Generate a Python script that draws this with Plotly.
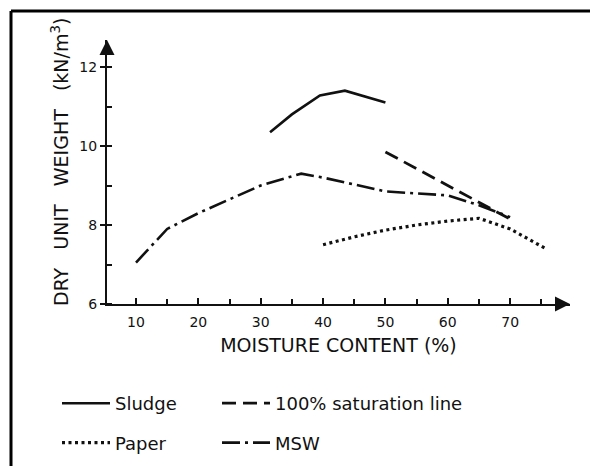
import plotly.graph_objects as go

# Compaction curves: dry unit weight (kN/m^3) vs moisture content (%)
sludge_x = [31.5, 35, 39.5, 43.5, 50]
sludge_y = [10.35, 10.8, 11.28, 11.4, 11.1]

saturation_x = [50, 60, 70]
saturation_y = [9.85, 9.0, 8.15]

paper_x = [40, 45, 50, 55, 60, 65, 70, 75.5]
paper_y = [7.5, 7.7, 7.87, 8.0, 8.1, 8.17, 7.9, 7.42]

msw_x = [10, 13, 15, 20, 30, 36.5, 40, 50, 60, 65, 70]
msw_y = [7.05, 7.55, 7.9, 8.3, 9.0, 9.3, 9.2, 8.85, 8.75, 8.5, 8.2]

x_ticks = [10, 20, 30, 40, 50, 60, 70]
y_ticks = [6, 8, 10, 12]

FONT = "DejaVu Sans"
INK = "#111111"

W, H = 590, 466
ML, MR, MT, MB = 107, 20, 40, 162
PW, PH = W - ML - MR, H - MT - MB

fig = go.Figure()
fig.add_trace(go.Scatter(x=sludge_x, y=sludge_y, mode="lines", name="Sludge",
                         line=dict(color=INK, width=2.6), legend="legend",
                         legendgroup="a"))
fig.add_trace(go.Scatter(x=paper_x, y=paper_y, mode="lines", name="Paper",
                         line=dict(color=INK, width=3.2, dash="3px,3.5px"),
                         legend="legend", legendgroup="b"))
fig.add_trace(go.Scatter(x=saturation_x, y=saturation_y, mode="lines",
                         name="100% saturation line",
                         line=dict(color=INK, width=2.8, dash="14px,7px"),
                         legend="legend2", legendgroup="c"))
fig.add_trace(go.Scatter(x=msw_x, y=msw_y, mode="lines", name="MSW",
                         line=dict(color=INK, width=2.6, dash="18px,5px,3px,5px"),
                         legend="legend2", legendgroup="d"))

def px_to_paper_x(px):
    return (px - ML) / PW

def px_to_paper_y(py):
    return (H - MB - py) / PH

legend_common = dict(
    orientation="v", traceorder="grouped", tracegroupgap=13,
    font=dict(family=FONT, size=18, color=INK), bgcolor="rgba(0,0,0,0)",
    itemwidth=48, yanchor="top", xanchor="left",
    xref="container", yref="container",
    y=1 - 385 / H,
)

fig.update_layout(
    width=W, height=H,
    margin=dict(l=ML, r=MR, t=MT, b=MB, autoexpand=False),
    paper_bgcolor="white", plot_bgcolor="white",
    font=dict(family=FONT, color=INK),
    showlegend=True,
    legend=dict(**legend_common, x=57 / W),
    legend2=dict(**legend_common, x=217 / W),
    xaxis=dict(
        range=[5.35, 79.6], tickvals=x_ticks, showgrid=False, zeroline=False,
        showline=True, linecolor=INK, linewidth=2,
        ticks="inside", ticklen=6, tickwidth=1.5, tickcolor=INK,
        ticklabelstandoff=4,
        minor=dict(dtick=5, tick0=0, ticks="inside", ticklen=5, tickwidth=1.5,
                   tickcolor=INK, showgrid=False),
        tickfont=dict(family=FONT, size=14, color=INK),
        title=dict(text="MOISTURE CONTENT (%)", standoff=10,
                   font=dict(family=FONT, size=19, color=INK)),
    ),
    yaxis=dict(
        range=[6, 6 + PH / 39.5], tickvals=y_ticks, showgrid=False, zeroline=False,
        showline=True, linecolor=INK, linewidth=2,
        ticks="outside", ticklen=5, tickwidth=1.5, tickcolor=INK,
        minor=dict(dtick=1, tick0=0, ticks="inside", ticklen=5, tickwidth=1.5,
                   tickcolor=INK, showgrid=False),
        tickfont=dict(family=FONT, size=14, color=INK),
    ),
)

# Vertical axis title, set beside the tick labels
fig.add_annotation(x=px_to_paper_x(60), y=px_to_paper_y(162),
                   xref="paper", yref="paper", textangle=-90,
                   xanchor="center", yanchor="middle", showarrow=False,
                   text="DRY   UNIT   WEIGHT   (kN/m<sup>3</sup>)",
                   font=dict(family=FONT, size=19, color=INK))

# Arrowheads at the ends of both axes
fig.add_annotation(x=1, y=0, xref="paper", yref="paper", ax=-14, ay=0,
                   showarrow=True, arrowhead=2, arrowsize=1.5, arrowwidth=2,
                   arrowcolor=INK, text="")
fig.add_annotation(x=0, y=1, xref="paper", yref="paper", ax=0, ay=14,
                   showarrow=True, arrowhead=2, arrowsize=1.5, arrowwidth=2,
                   arrowcolor=INK, text="")

# Frame lines along the top and left edge of the figure
fig.add_shape(type="line", xref="paper", yref="paper",
              x0=px_to_paper_x(11), x1=px_to_paper_x(W + 5),
              y0=px_to_paper_y(11), y1=px_to_paper_y(11),
              line=dict(color="black", width=3))
fig.add_shape(type="line", xref="paper", yref="paper",
              x0=px_to_paper_x(11), x1=px_to_paper_x(11),
              y0=px_to_paper_y(11), y1=px_to_paper_y(H + 5),
              line=dict(color="black", width=3))

fig.write_html("out.html")
